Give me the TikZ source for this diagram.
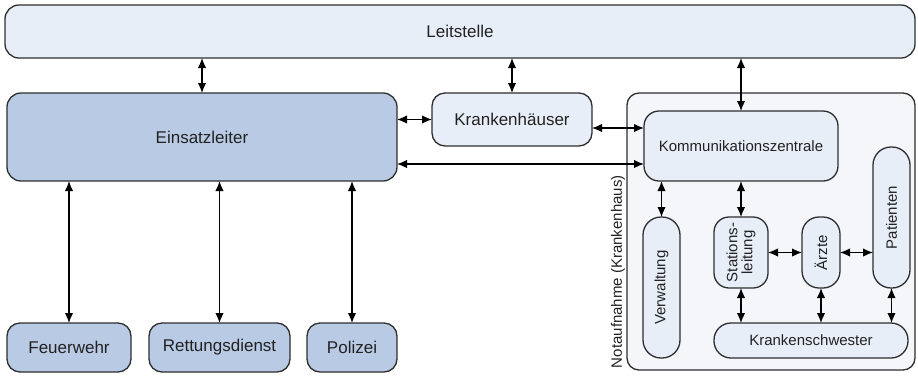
\documentclass[tikz,border=0pt]{standalone}
\usepackage{fontspec}
\setmainfont{Liberation Sans}
\usetikzlibrary{arrows.meta}
\definecolor{lightfill}{HTML}{E8EEF8}
\definecolor{darkfill}{HTML}{B8CAE4}
\definecolor{groupfill}{HTML}{F4F6FA}
\definecolor{edge}{HTML}{2E2E2E}
\definecolor{ink}{HTML}{222222}
\begin{document}
\begin{tikzpicture}[x=1pt,y=-1pt,
  base/.style={draw=edge, line width=1.3pt, inner sep=0pt, outer sep=0pt, text=ink, align=center},
  big/.style={base, font=\fontsize{17}{19}\selectfont},
  small/.style={base, font=\fontsize{15}{16}\selectfont},
  light/.style={fill=lightfill},
  dark/.style={fill=darkfill},
  vert/.style={small, light, rotate=90},
  arr/.style={draw=black, line width=1.3pt, {Latex[length=10pt,width=8.5pt]}-{Latex[length=10pt,width=8.5pt]}}
]
\useasboundingbox (0,0) rectangle (918,376);

% top level
\node[big, light, rounded corners=14pt, minimum width=910pt, minimum height=53pt] (leit) at (460,31.5) {Leitstelle};
\node[big, dark, rounded corners=14pt, minimum width=390pt, minimum height=88pt] (ein) at (202,137) {Einsatzleiter};
\node[big, light, rounded corners=13pt, minimum width=160pt, minimum height=53pt] (kh) at (512,119.5) {Krankenhäuser};

% field units
\node[big, dark, rounded corners=13pt, minimum width=124pt, minimum height=49pt] (fw) at (69,347.5) {Feuerwehr};
\node[big, dark, rounded corners=13pt, minimum width=141pt, minimum height=49pt] (rd) at (219.5,347.5) {Rettungsdienst};
\node[big, dark, rounded corners=13pt, minimum width=90pt, minimum height=49pt] (pol) at (352,347.5) {Polizei};

% emergency department group
\node[base, fill=groupfill, rounded corners=12pt, minimum width=288pt, minimum height=277pt] (na) at (771,231.5) {};
\node[small, rotate=90, anchor=south west, draw=none, inner sep=2pt] (nalabel) at (na.south west) {Notaufnahme (Krankenhaus)};

\node[small, light, rounded corners=15pt, minimum width=194pt, minimum height=70pt] (kz) at (741,146) {Kommunikationszentrale};
\node[vert, rounded corners=18pt, minimum width=141pt, minimum height=37pt] (pat) at (891.5,217.5) {Patienten};
\node[vert, rounded corners=18pt, minimum width=141pt, minimum height=37pt] (verw) at (661.5,287.5) {Verwaltung};
\node[vert, rounded corners=15pt, minimum width=71pt, minimum height=54pt, font=\fontsize{15}{15}\selectfont] (sl) at (741,252.5) {Stations-\\leitung};
\node[vert, rounded corners=17pt, minimum width=71pt, minimum height=38pt] (ae) at (821,252.5) {Ärzte};
\node[small, light, rounded corners=17pt, minimum width=194pt, minimum height=35pt] (ks) at (811,340.5) {Krankenschwester};

% connections
\draw[arr] (leit.south -| ein.north) -- (ein.north);
\draw[arr] (leit.south -| kh.north) -- (kh.north);
\draw[arr] (leit.south -| kz.north) -- (kz.north);
\draw[arr] (kh.west -| ein.east) -- (kh.west);
\draw[arr] ([yshift=-8.5pt]kh.east) -- ([yshift=-8.5pt]kh.east -| kz.west);
\draw[arr] ([yshift=-18pt]kz.west -| ein.east) -- ([yshift=-18pt]kz.west);
\draw[arr] (ein.south -| fw.north) -- (fw.north);
\draw[arr] (ein.south -| rd.north) -- (rd.north);
\draw[arr] (ein.south -| pol.north) -- (pol.north);
\draw[arr] (kz.south -| verw.east) -- (verw.east);
\draw[arr] (kz.south -| sl.east) -- (sl.east);
\draw[arr] (sl.south) -- (ae.north);
\draw[arr] (ae.south) -- (ae.south -| pat.north);
\draw[arr] (sl.west) -- (sl.west |- ks.north);
\draw[arr] (ae.west) -- (ae.west |- ks.north);
\draw[arr] (pat.west |- ae.west) -- (pat.west |- ks.north);
\end{tikzpicture}
\end{document}
